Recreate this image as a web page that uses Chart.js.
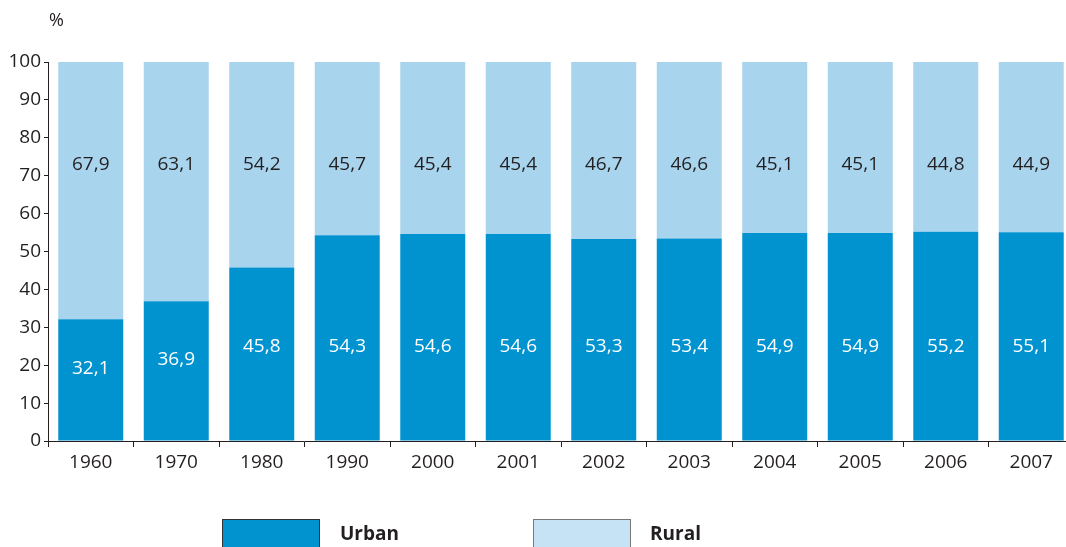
<!DOCTYPE html>
<html>
<head>
<meta charset="utf-8">
<script src="https://cdn.jsdelivr.net/npm/chart.js@4"></script>
<style>
    html, body { margin: 0; padding: 0; background: #fff; }
    #wrap { position: relative; width: 1066px; height: 547px; overflow: hidden; font-family: "Open Sans", sans-serif; color: #231f20; }
    #chart { position: absolute; left: 0; top: 0; }
    #unit { position: absolute; left: 49px; top: 7px; font-size: 18px; }
    .key { position: absolute; top: 519px; width: 98px; height: 30px; box-sizing: border-box; }
    .keyText { position: absolute; top: 520px; font-size: 19px; font-weight: bold; }
</style>
</head>
<body>
<div id="wrap">
    <canvas id="chart" width="1078" height="547"></canvas>
    <div id="unit">%</div>
    <div class="key" style="left:222px;background:#0093d0;border:1px solid #333;"></div>
    <div class="keyText" style="left:340px;">Urban</div>
    <div class="key" style="left:533px;background:#c5e3f5;border:1px solid #777;"></div>
    <div class="keyText" style="left:650px;">Rural</div>
</div>
<script>
// Data
const years = ['1960', '1970', '1980', '1990', '2000', '2001', '2002', '2003', '2004', '2005', '2006', '2007'];
const urban = [32.1, 36.9, 45.8, 54.3, 54.6, 54.6, 53.3, 53.4, 54.9, 54.9, 55.2, 55.1];
const rural = [67.9, 63.1, 54.2, 45.7, 45.4, 45.4, 46.7, 46.6, 45.1, 45.1, 44.8, 44.9];

const textColor = '#231f20';
const fontFamily = '"Open Sans", sans-serif';

// Draw value labels inside the bar segments
const segmentLabels = {
    id: 'segmentLabels',
    afterDatasetsDraw(chart) {
        const ctx = chart.ctx;
        const y = chart.scales.y;
        const fmt = v => v.toFixed(1).replace('.', ',');
        ctx.save();
        ctx.font = '19px ' + fontFamily;
        ctx.textAlign = 'center';
        ctx.textBaseline = 'middle';
        chart.getDatasetMeta(0).data.forEach((bar, i) => {
            ctx.fillStyle = '#ffffff';
            ctx.fillText(fmt(urban[i]), bar.x, y.getPixelForValue(Math.min(urban[i] / 2 + 3, 25)));
            ctx.fillStyle = textColor;
            ctx.fillText(fmt(rural[i]), bar.x, y.getPixelForValue(73));
        });
        ctx.restore();
    }
};

const ctx = document.getElementById('chart').getContext('2d');
new Chart(ctx, {
    type: 'bar',
    data: {
        labels: years,
        datasets: [
            {
                label: 'Urban',
                data: urban,
                backgroundColor: '#0093d0',
                borderWidth: 0
            },
            {
                label: 'Rural',
                data: rural,
                backgroundColor: '#a8d4ee',
                borderWidth: 0
            }
        ]
    },
    options: {
        responsive: false,
        animation: false,
        layout: {
            padding: { top: 62, right: 4, bottom: 0, left: 0 }
        },
        datasets: {
            bar: {
                categoryPercentage: 1,
                barPercentage: 0.76
            }
        },
        plugins: {
            legend: { display: false },
            tooltip: { enabled: false }
        },
        scales: {
            x: {
                stacked: true,
                afterFit(scale) { scale.height = 106; },
                grid: {
                    offset: true,
                    drawOnChartArea: false,
                    drawTicks: true,
                    tickLength: 6,
                    color: textColor
                },
                border: { color: textColor, width: 1 },
                ticks: {
                    color: textColor,
                    padding: 4,
                    font: { family: fontFamily, size: 19 }
                }
            },
            y: {
                stacked: true,
                min: 0,
                max: 100,
                afterFit(scale) { scale.width = 48; },
                grid: {
                    drawOnChartArea: false,
                    drawTicks: true,
                    tickLength: 4,
                    color: textColor
                },
                border: { color: textColor, width: 1 },
                ticks: {
                    stepSize: 10,
                    color: textColor,
                    padding: 3,
                    font: { family: fontFamily, size: 19 }
                }
            }
        }
    },
    plugins: [segmentLabels]
});
</script>
</body>
</html>
